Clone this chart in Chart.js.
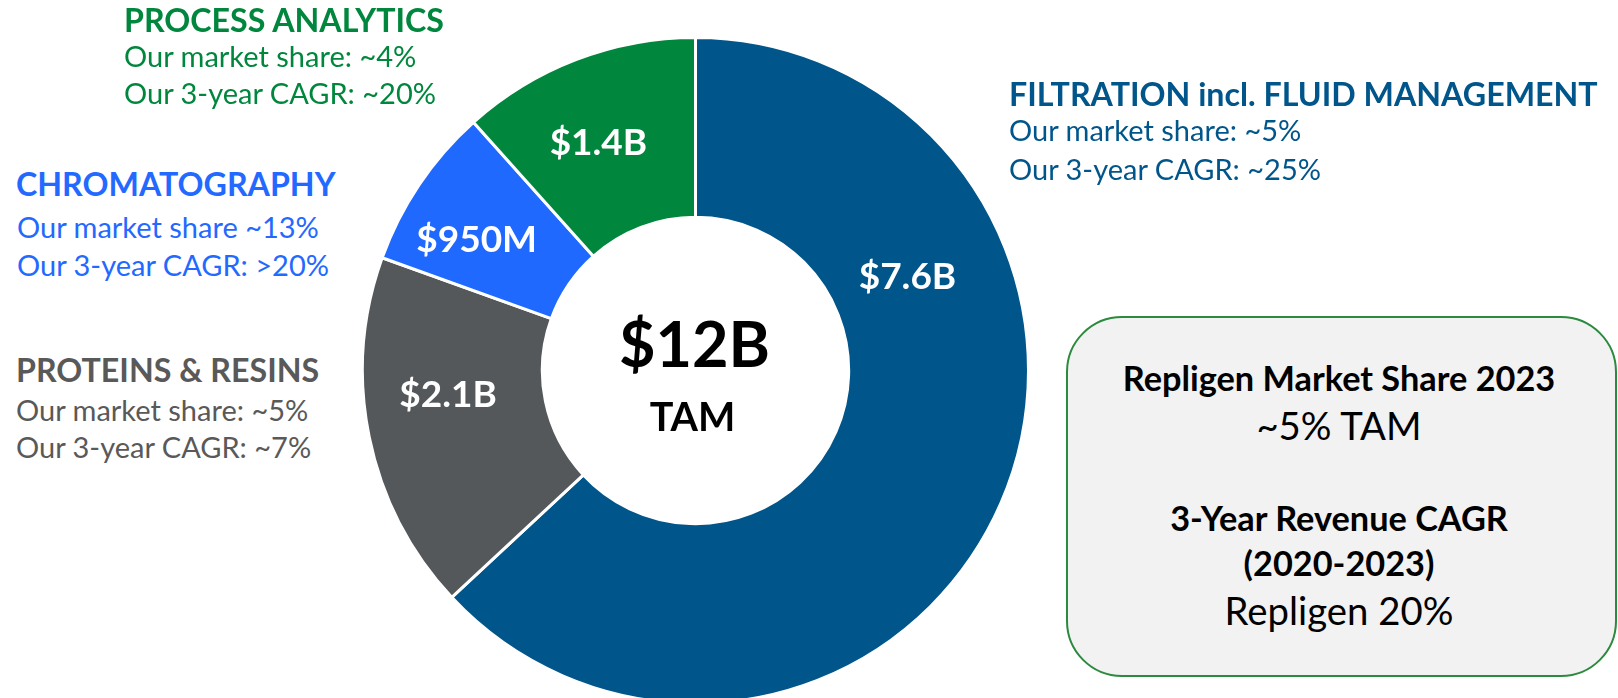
<!DOCTYPE html>
<html>
<head>
<meta charset="utf-8">
<script src="https://cdn.jsdelivr.net/npm/chart.js@4.4.1/dist/chart.umd.min.js"></script>
<style>
html,body{margin:0;padding:0;background:#fff;}
body{width:1618px;height:698px;position:relative;overflow:hidden;font-family:Lato,"Open Sans",sans-serif;}
#donutBox{position:absolute;left:361px;top:36px;width:669px;height:669px;}
.txt{position:absolute;white-space:nowrap;line-height:1;}
.hd{font-weight:700;font-size:32.2px;}
.bd{font-weight:400;font-size:29px;}
.bxb{font-weight:700;font-size:34.3px;}
.bxr{font-weight:400;font-size:38.3px;}
#tamBox{position:absolute;left:1066px;top:316px;width:551px;height:361px;box-sizing:border-box;border:2px solid #2B8A3E;border-radius:56px;background:#F2F2F2;}
</style>
</head>
<body>
<div id="tamBox"></div>
<div id="donutBox"><canvas id="tamChart"></canvas></div>
<script>
// market sizes by segment, $B, clockwise from 12 o'clock
const categories = ['FILTRATION incl. FLUID MANAGEMENT', 'PROTEINS & RESINS', 'CHROMATOGRAPHY', 'PROCESS ANALYTICS'];
const marketSize = [7.6, 2.1, 0.95, 1.4];
const sizeLabels = ['$7.6B', '$2.1B', '$950M', '$1.4B'];
const shareLines = ['Our market share: ~5%', 'Our market share: ~5%', 'Our market share ~13%', 'Our market share: ~4%'];
const cagrLines = ['Our 3-year CAGR: ~25%', 'Our 3-year CAGR: ~7%', 'Our 3-year CAGR: >20%', 'Our 3-year CAGR: ~20%'];
const totalLabel = ['$12B', 'TAM'];
const boxLines = ['Repligen Market Share 2023', '~5% TAM', '3-Year Revenue CAGR', '(2020-2023)', 'Repligen 20%'];

const sliceColors = ['#00558A', '#54585A', '#1F69FF', '#00873D'];
const textColors = ['#00558A', '#595959', '#2469FF', '#00873D'];

// where each value label sits inside its slice: [fraction along arc, fraction across ring]
const labelSpots = [[0.29, 0.44], [0.60, 0.53], [0.40, 0.57], [0.45, 0.53]];

// side notes: left x and the three baselines
const notePos = [
    {x: 1009, y: [106, 141, 180]},
    {x: 16, y: [382, 421, 458]},
    {x: 16, y: [196, 238, 276]},
    {x: 124, y: [32, 67, 104]}
];
const boxBase = [391, 440, 531, 576, 625];
const boxCls = ['bxb', 'bxr', 'bxb', 'bxb', 'bxr'];

function placeLine(text, cls, color, x, baseline, centered){
    const el = document.createElement('div');
    el.className = 'txt ' + cls;
    el.style.color = color;
    el.textContent = text;
    const mark = document.createElement('span');
    mark.style.cssText = 'display:inline-block;width:0;height:0;vertical-align:baseline';
    el.appendChild(mark);
    document.body.appendChild(el);
    el.style.left = x + 'px';
    if(centered) el.style.transform = 'translateX(-50%)';
    el.style.top = (baseline - mark.offsetTop) + 'px';
}

categories.forEach((c, i) => {
    const p = notePos[i];
    placeLine(c, 'hd', textColors[i], p.x, p.y[0]);
    placeLine(shareLines[i], 'bd', textColors[i], p.x + (i === 2 ? 1 : 0), p.y[1]);
    placeLine(cagrLines[i], 'bd', textColors[i], p.x + (i === 2 ? 1 : 0), p.y[2]);
});
boxLines.forEach((t, i) => placeLine(t, boxCls[i], '#000', 1339, boxBase[i], true));

const sliceLabels = {
    id: 'sliceLabels',
    afterDatasetsDraw(chart){
        const c = chart.ctx;
        const meta = chart.getDatasetMeta(0);
        c.save();
        c.fillStyle = '#fff';
        c.textAlign = 'center';
        c.textBaseline = 'alphabetic';
        const fs = 37;
        c.font = 'bold ' + fs + 'px Lato';
        meta.data.forEach((arc, i) => {
            const p = arc.getProps(['x', 'y', 'startAngle', 'endAngle', 'innerRadius', 'outerRadius'], true);
            const a = p.startAngle + (p.endAngle - p.startAngle) * labelSpots[i][0];
            const r = p.innerRadius + (p.outerRadius - p.innerRadius) * labelSpots[i][1];
            c.fillText(sizeLabels[i], p.x + Math.cos(a) * r, p.y + Math.sin(a) * r + fs * 0.36);
        });
        c.restore();
    }
};

const centerLabel = {
    id: 'centerLabel',
    afterDatasetsDraw(chart){
        const c = chart.ctx;
        const arc = chart.getDatasetMeta(0).data[0];
        c.save();
        c.fillStyle = '#000';
        c.textAlign = 'center';
        c.font = 'bold 63px Lato';
        c.fillText(totalLabel[0], arc.x - 1, arc.y - 4);
        c.font = 'bold 39.5px Lato';
        c.fillText(totalLabel[1], arc.x - 3, arc.y + 60);
        c.restore();
    }
};

const tamChart = new Chart(document.getElementById('tamChart'), {
    type: 'doughnut',
    data: {
        labels: categories,
        datasets: [{
            data: marketSize,
            backgroundColor: sliceColors,
            borderColor: '#ffffff',
            borderWidth: 3,
            hoverOffset: 0,
            offset: 0
        }]
    },
    options: {
        responsive: true,
        maintainAspectRatio: false,
        animation: false,
        cutout: '46%',
        layout: {padding: 0},
        events: [],
        plugins: {legend: {display: false}, tooltip: {enabled: false}}
    },
    plugins: [sliceLabels, centerLabel]
});
</script>
</body>
</html>
